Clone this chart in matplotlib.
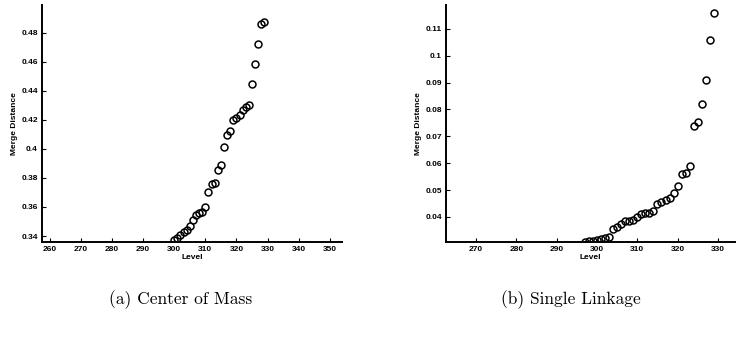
import matplotlib
matplotlib.use("Agg")
import matplotlib.pyplot as plt

# Center of Mass data
com_level = [300, 301, 302, 303, 304, 305, 306, 307, 308, 309, 310, 311, 312, 313, 314,
             315, 316, 317, 318, 319, 320, 321, 322, 323, 324, 325, 326, 327, 328, 329]
com_dist = [0.3372, 0.3388, 0.3404, 0.3425, 0.3441, 0.3469, 0.3510, 0.3544, 0.3560, 0.3563,
            0.3600, 0.3700, 0.3756, 0.3766, 0.3853, 0.3890, 0.4012, 0.4093, 0.4125, 0.4200,
            0.4213, 0.4230, 0.4266, 0.4290, 0.4298, 0.4443, 0.4586, 0.4724, 0.4858, 0.4870]

# Single Linkage data
sl_level = list(range(297, 330))
sl_dist = [0.0307, 0.0309, 0.0311, 0.0313, 0.0318, 0.0321, 0.0326, 0.0353, 0.0362, 0.0375,
           0.0386, 0.0385, 0.0390, 0.0399, 0.0409, 0.0413, 0.0415, 0.0422, 0.0447, 0.0457,
           0.0461, 0.0471, 0.0490, 0.0514, 0.0559, 0.0564, 0.0588, 0.0739, 0.0753, 0.0821,
           0.0910, 0.1059, 0.1158]

com_xticks = [260, 270, 280, 290, 300, 310, 320, 330, 340, 350]
com_yticks = [0.34, 0.36, 0.38, 0.40, 0.42, 0.44, 0.46, 0.48]
com_ylabels = ["0.34", "0.36", "0.38", "0.4", "0.42", "0.44", "0.46", "0.48"]
sl_xticks = [270, 280, 290, 300, 310, 320, 330]
sl_yticks = [0.04, 0.05, 0.06, 0.07, 0.08, 0.09, 0.10, 0.11]
sl_ylabels = ["0.04", "0.05", "0.06", "0.07", "0.08", "0.09", "0.1", "0.11"]

captions = ["(a) Center of Mass", "(b) Single Linkage"]

fig = plt.figure(figsize=(7.36, 3.5), dpi=100)
ax1 = fig.add_axes([0.057, 0.309, 0.408, 0.677])
ax2 = fig.add_axes([0.606, 0.309, 0.392, 0.677])

tickfont = dict(family="Liberation Sans", size=6, weight="bold")

def style(ax, x, y, xt, yt, yl, xlim, ylim):
    ax.plot(x, y, linestyle="none", marker="o", markersize=5,
            markerfacecolor="none", markeredgecolor="black", markeredgewidth=1.1)
    ax.set_xlim(*xlim)
    ax.set_ylim(*ylim)
    ax.set_xticks(xt)
    ax.set_xticklabels([str(v) for v in xt], fontdict=tickfont)
    ax.set_yticks(yt)
    ax.set_yticklabels(yl, fontdict=tickfont)
    ax.spines["top"].set_visible(False)
    ax.spines["right"].set_visible(False)
    ax.spines["left"].set_linewidth(1.4)
    ax.spines["bottom"].set_linewidth(1.4)
    ax.tick_params(direction="in", length=3, width=0.8, pad=3)
    ax.set_xlabel("Level", fontdict=tickfont, labelpad=1)
    ax.set_ylabel("Merge Distance", fontdict=tickfont, labelpad=2)

style(ax1, com_level, com_dist, com_xticks, com_yticks, com_ylabels,
      (257.5, 354), (0.336, 0.499))
style(ax2, sl_level, sl_dist, sl_xticks, sl_yticks, sl_ylabels,
      (262.6, 334.1), (0.0307, 0.1189))

fig.text(0.245, 0.143, captions[0], ha="center", va="center", family="cmr10", fontsize=12.5)
fig.text(0.775, 0.143, captions[1], ha="center", va="center", family="cmr10", fontsize=12.5)

fig.savefig("out.png", dpi=100)
